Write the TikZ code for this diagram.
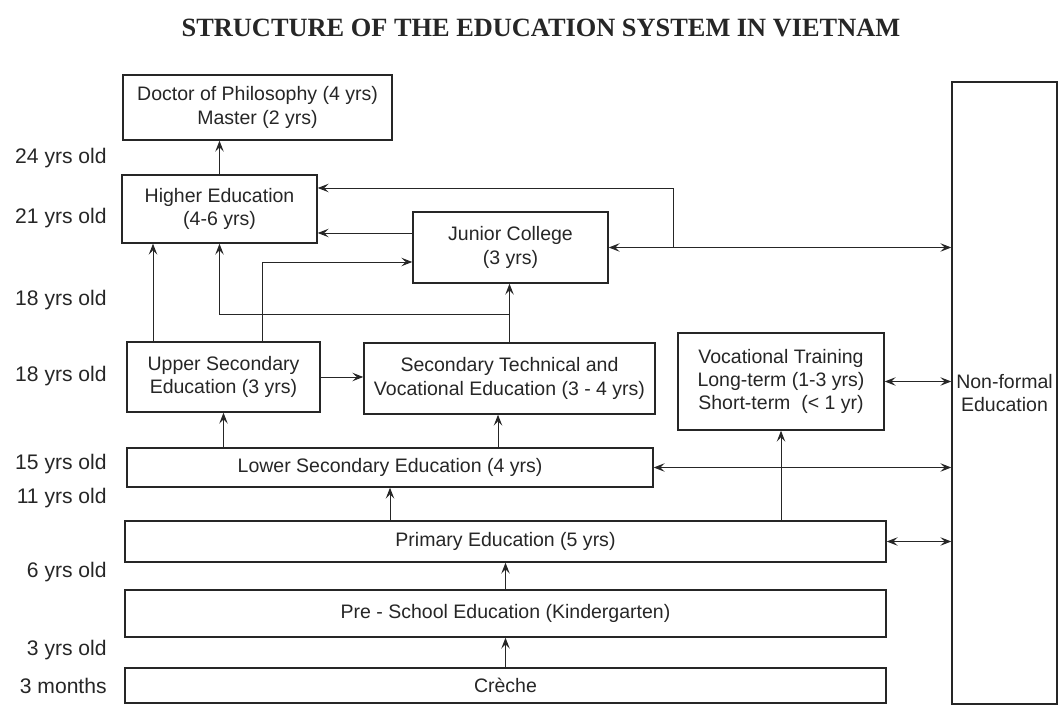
\documentclass[tikz,border=0pt]{standalone}
\usepackage{fontspec}
\setmainfont{Liberation Sans}
\newfontfamily\titlefont{Liberation Serif}
\usetikzlibrary{arrows.meta,calc}
\begin{document}
\begin{tikzpicture}[>={Stealth[length=2.2mm,width=1.7mm,inset=0.9mm]}]
\tikzstyle{box}=[draw=black!85, line width=0.8pt, align=center, inner sep=0, font=\fontsize{11.1}{13.2}\selectfont, text=black!85]
\tikzstyle{age}=[anchor=east, inner sep=0, font=\fontsize{12}{14}\selectfont, text=black!85]
\tikzstyle{link}=[line width=0.55pt, draw=black!85]
\useasboundingbox(0,0)rectangle(21.2,14.12);
\node[font=\titlefont\bfseries\fontsize{15}{17}\selectfont, text=black!85](title)at(10.82,13.56){STRUCTURE OF THE EDUCATION SYSTEM IN VIETNAM};
\node[box, minimum width=5.38cm, minimum height=1.30cm](phd)at(5.15,11.97){Doctor of Philosophy (4 yrs)\\Master (2 yrs)};
\node[box, minimum width=3.90cm, minimum height=1.36cm](hedu)at(4.39,9.94){Higher Education\\(4-6 yrs)};
\node[box, minimum width=3.90cm, minimum height=1.42cm](jcol)at(10.21,9.17){Junior College\\(3 yrs)};
\node[box, minimum width=3.86cm, minimum height=1.40cm](usec)at(4.47,6.58){Upper Secondary\\Education (3 yrs)};
\node[box, minimum width=5.82cm, minimum height=1.42cm](stve)at(10.19,6.55){Secondary Technical and\\Vocational Education (3 - 4 yrs)};
\node[box, minimum width=4.12cm, minimum height=1.94cm](voc)at(15.62,6.49){Vocational Training\\Long-term (1-3 yrs)\\Short-term\ \ (< 1 yr)};
\node[box, minimum width=10.52cm, minimum height=0.78cm](lsec)at(7.80,4.77){Lower Secondary Education (4 yrs)};
\node[box, minimum width=15.22cm, minimum height=0.82cm](prim)at(10.11,3.29){Primary Education (5 yrs)};
\node[box, minimum width=15.22cm, minimum height=0.94cm](pres)at(10.11,1.85){Pre - School Education (Kindergarten)};
\node[box, minimum width=15.22cm, minimum height=0.70cm](crec)at(10.11,0.41){Crèche};
\node[box, minimum width=2.10cm, minimum height=12.44cm](nonf)at(20.09,6.26){Non-formal\\Education};
\node[age](a24)at(2.14,10.96){24 yrs old};
\node[age](a21)at(2.14,9.76){21 yrs old};
\node[age](a18a)at(2.14,8.12){18 yrs old};
\node[age](a18b)at(2.14,6.60){18 yrs old};
\node[age](a15)at(2.14,4.84){15 yrs old};
\node[age](a11)at(2.14,4.16){11 yrs old};
\node[age](a6)at(2.14,2.68){6 yrs old};
\node[age](a3)at(2.14,1.12){3 yrs old};
\node[age](a0)at(2.14,0.40){3 months};
\draw[link,->](hedu.north)--(hedu.north|-phd.south);
\draw[link,->]([xshift=-1.41cm]usec.north)--([xshift=-1.41cm]usec.north|-hedu.south);
\draw[link,->]([xshift=0.77cm]usec.north)|-([yshift=-0.29cm]jcol.west);
\draw[link,->]([yshift=0.29cm]jcol.west)--([yshift=0.29cm]jcol.west-|hedu.east);
\draw[link,->](stve.north)--(stve.north|-jcol.south);
\draw[link,->]([yshift=0.56cm]stve.north)-|(hedu.south);
\draw[link,->](usec.east)--(usec.east-|stve.west);
\draw[link,->](lsec.north-|usec.south)--(usec.south);
\draw[link,->]([xshift=-0.23cm]stve.south|-lsec.north)--([xshift=-0.23cm]stve.south);
\draw[link,->](lsec.south|-prim.north)--(lsec.south);
\draw[link,->](voc.south|-prim.north)--(voc.south);
\draw[link,->](pres.north)--(prim.south);
\draw[link,->](crec.north)--(pres.south);
\draw[link,<->](jcol.east)--(jcol.east-|nonf.west);
\draw[link,->]([xshift=1.3cm]jcol.east)|-([yshift=0.42cm]hedu.east);
\draw[link,<->](voc.east)--(voc.east-|nonf.west);
\draw[link,<->](lsec.east)--(lsec.east-|nonf.west);
\draw[link,<->](prim.east)--(prim.east-|nonf.west);
\end{tikzpicture}
\end{document}
